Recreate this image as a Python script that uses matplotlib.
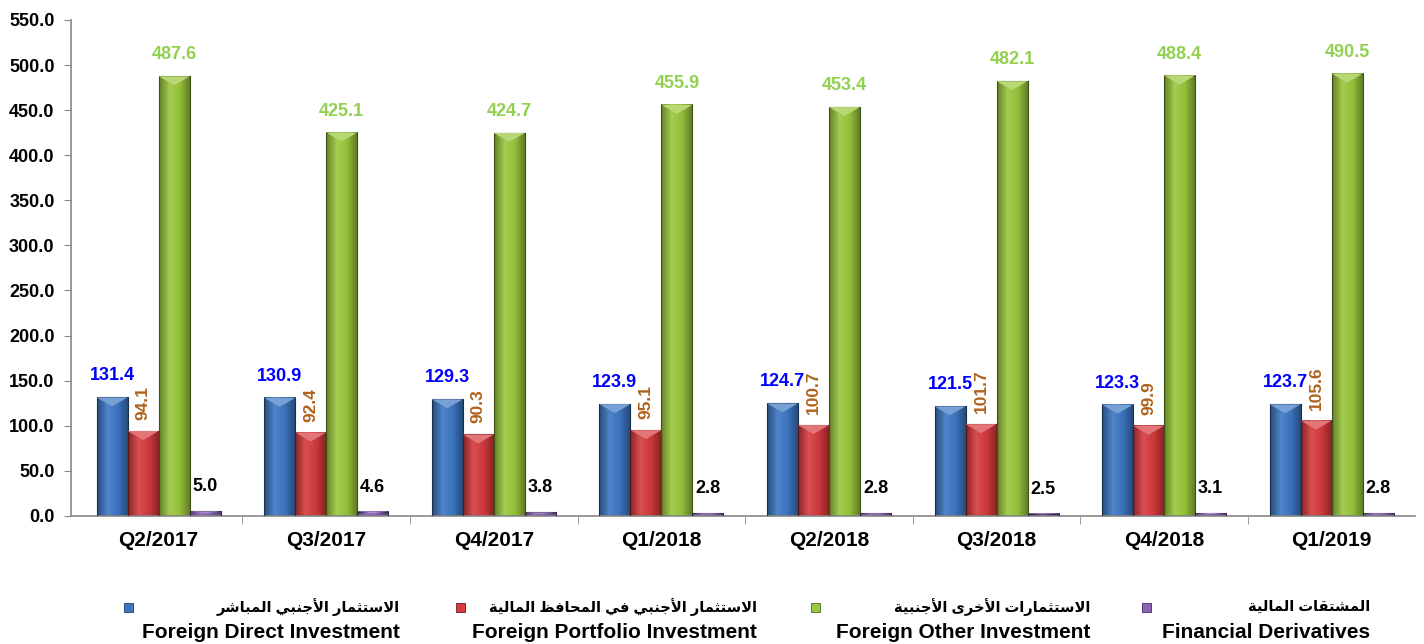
import numpy as np
import matplotlib
matplotlib.use("Agg")
from matplotlib import pyplot as plt
from matplotlib.colors import LinearSegmentedColormap, to_rgb
from matplotlib.patches import Rectangle, Polygon

plt.rcParams['font.family'] = ['Liberation Sans', 'DejaVu Sans']
plt.rcParams['font.weight'] = 'bold'

# data
quarters = ['Q2/2017', 'Q3/2017', 'Q4/2017', 'Q1/2018',
            'Q2/2018', 'Q3/2018', 'Q4/2018', 'Q1/2019']
fdi = [131.4, 130.9, 129.3, 123.9, 124.7, 121.5, 123.3, 123.7]
portfolio = [94.1, 92.4, 90.3, 95.1, 100.7, 101.7, 99.9, 105.6]
other = [487.6, 425.1, 424.7, 455.9, 453.4, 482.1, 488.4, 490.5]
derivatives = [5.0, 4.6, 3.8, 2.8, 2.8, 2.5, 3.1, 2.8]

names_ar = ['الاستثمار الأجنبي المباشر',
            'الاستثمار الأجنبي في المحافظ المالية',
            'الاستثمارات الأخرى الأجنبية',
            'المشتقات المالية']
names_en = ['Foreign Direct Investment', 'Foreign Portfolio Investment',
            'Foreign Other Investment', 'Financial Derivatives']

bar_colors = ['#3d77c4', '#d63a3e', '#9ac73c', '#8a62b8']
label_colors = ['#0000ff', '#b0621c', '#92d050', '#000000']
yticks = np.arange(0, 551, 50)


# --- tiny arabic shaper (matplotlib has no shaping / bidi) ---
FORMS = {  # isolated, final, initial, medial
    'ا': (0xFE8D, 0xFE8E), 'أ': (0xFE83, 0xFE84), 'ر': (0xFEAD, 0xFEAE),
    'ة': (0xFE93, 0xFE94), 'ى': (0xFEEF, 0xFEF0),
    'ب': (0xFE8F, 0xFE90, 0xFE91, 0xFE92), 'ت': (0xFE95, 0xFE96, 0xFE97, 0xFE98),
    'ث': (0xFE99, 0xFE9A, 0xFE9B, 0xFE9C), 'ج': (0xFE9D, 0xFE9E, 0xFE9F, 0xFEA0),
    'ح': (0xFEA1, 0xFEA2, 0xFEA3, 0xFEA4), 'خ': (0xFEA5, 0xFEA6, 0xFEA7, 0xFEA8),
    'س': (0xFEB1, 0xFEB2, 0xFEB3, 0xFEB4), 'ش': (0xFEB5, 0xFEB6, 0xFEB7, 0xFEB8),
    'ظ': (0xFEC5, 0xFEC6, 0xFEC7, 0xFEC8), 'ف': (0xFED1, 0xFED2, 0xFED3, 0xFED4),
    'ق': (0xFED5, 0xFED6, 0xFED7, 0xFED8), 'ل': (0xFEDD, 0xFEDE, 0xFEDF, 0xFEE0),
    'م': (0xFEE1, 0xFEE2, 0xFEE3, 0xFEE4), 'ن': (0xFEE5, 0xFEE6, 0xFEE7, 0xFEE8),
    'ي': (0xFEF1, 0xFEF2, 0xFEF3, 0xFEF4),
    'لا': (0xFEFB, 0xFEFC), 'لأ': (0xFEF7, 0xFEF8),
}


def shape_ar(text):
    # merge lam-alef first
    units = []
    i = 0
    while i < len(text):
        if text[i] == 'ل' and i + 1 < len(text) and text[i + 1] in 'اأ':
            units.append(text[i:i + 2])
            i += 2
        else:
            units.append(text[i])
            i += 1
    out = []
    for k, u in enumerate(units):
        if u not in FORMS:
            out.append(u)
            continue
        prev = units[k - 1] if k > 0 else ' '
        nxt = units[k + 1] if k + 1 < len(units) else ' '
        join_prev = prev in FORMS and len(FORMS[prev]) == 4
        join_next = len(FORMS[u]) == 4 and nxt in FORMS
        f = FORMS[u]
        if join_prev and join_next:
            c = f[3]
        elif join_prev:
            c = f[1]
        elif join_next:
            c = f[2]
        else:
            c = f[0]
        out.append(chr(c))
    return ''.join(out)[::-1]


def shade(c, k):
    r = np.array(to_rgb(c))
    if k > 0:
        return tuple(r + (1 - r) * k)
    return tuple(r * (1 + k))


fig = plt.figure(figsize=(14.24, 6.44), dpi=100)
ax = fig.add_axes([0.05, 0.199, 0.944, 0.77])

series = [fdi, portfolio, other, derivatives]
x = np.arange(len(quarters))
w = 0.185
px = 550 / (0.77 * 644)  # data units per pixel

for s, vals in enumerate(series):
    col = bar_colors[s]
    cmap = LinearSegmentedColormap.from_list(
        'g%d' % s, [shade(col, -0.35), shade(col, 0.1), shade(col, -0.05), shade(col, -0.4)])
    grad = np.linspace(0, 1, 64).reshape(1, -1)
    for i, v in enumerate(vals):
        x0 = x[i] + (s - 1.5) * w - w / 2
        ax.imshow(grad, extent=(x0, x0 + w, 0, v), aspect='auto', cmap=cmap,
                  zorder=2, interpolation='bilinear')
        ax.add_patch(Rectangle((x0, 0), w, v, fill=False,
                               edgecolor=shade(col, -0.6), lw=0.8, zorder=3))
        d = min(9 * px, v * 0.4)
        ax.add_patch(Polygon([(x0, v), (x0 + w, v), (x0 + w * 0.5, v - d)],
                             closed=True, facecolor=shade(col, 0.3),
                             edgecolor='none', zorder=3))
        xc = x0 + w / 2
        if s == 1:
            ax.text(xc, v + 11 * px, '%.1f' % v, rotation=90, ha='center', va='bottom',
                    color=label_colors[s], fontsize=12.5, fontweight='bold')
        else:
            gap = 16 if s == 3 else 13
            ax.text(xc, v + gap * px, '%.1f' % v, ha='center', va='bottom',
                    color=label_colors[s], fontsize=13, fontweight='bold')

ax.set_xlim(-0.522, 7.5)
ax.set_ylim(0, 550)
ax.set_yticks(yticks)
ax.set_yticklabels(['%.1f' % t for t in yticks], fontsize=13, fontweight='bold')
ax.set_xticks(x)
ax.set_xticklabels(quarters, fontsize=15, fontweight='bold')
ax.tick_params(axis='x', length=0, pad=11)
ax.set_xticks(np.arange(0.5, 7.5, 1), minor=True)
ax.tick_params(axis='x', which='minor', length=6, color='#888888', direction='out')
ax.tick_params(axis='y', length=5, color='#888888', pad=7)
for side in ['top', 'right']:
    ax.spines[side].set_visible(False)
for side in ['left', 'bottom']:
    ax.spines[side].set_color('#888888')
    ax.spines[side].set_linewidth(1.2)

# legend, drawn by hand: marker, arabic name above english name
marker_x = [128, 460, 815, 1146]
text_right = [400, 757, 1090, 1370]
for k in range(4):
    mx = marker_x[k] / 1424
    fig.patches.append(Rectangle((mx - 4 / 1424, 1 - 612 / 644), 9 / 1424, 9 / 644,
                                 transform=fig.transFigure, facecolor=bar_colors[k],
                                 edgecolor=shade(bar_colors[k], -0.5), lw=0.6))
    tx = text_right[k] / 1424
    fig.text(tx, 1 - 607 / 644, shape_ar(names_ar[k]), ha='right', va='center',
             fontsize=10.5, fontweight='bold')
    fig.text(tx, 1 - 633 / 644, names_en[k], ha='right', va='center',
             fontsize=15, fontweight='bold')

fig.savefig('out.png', dpi=100)
